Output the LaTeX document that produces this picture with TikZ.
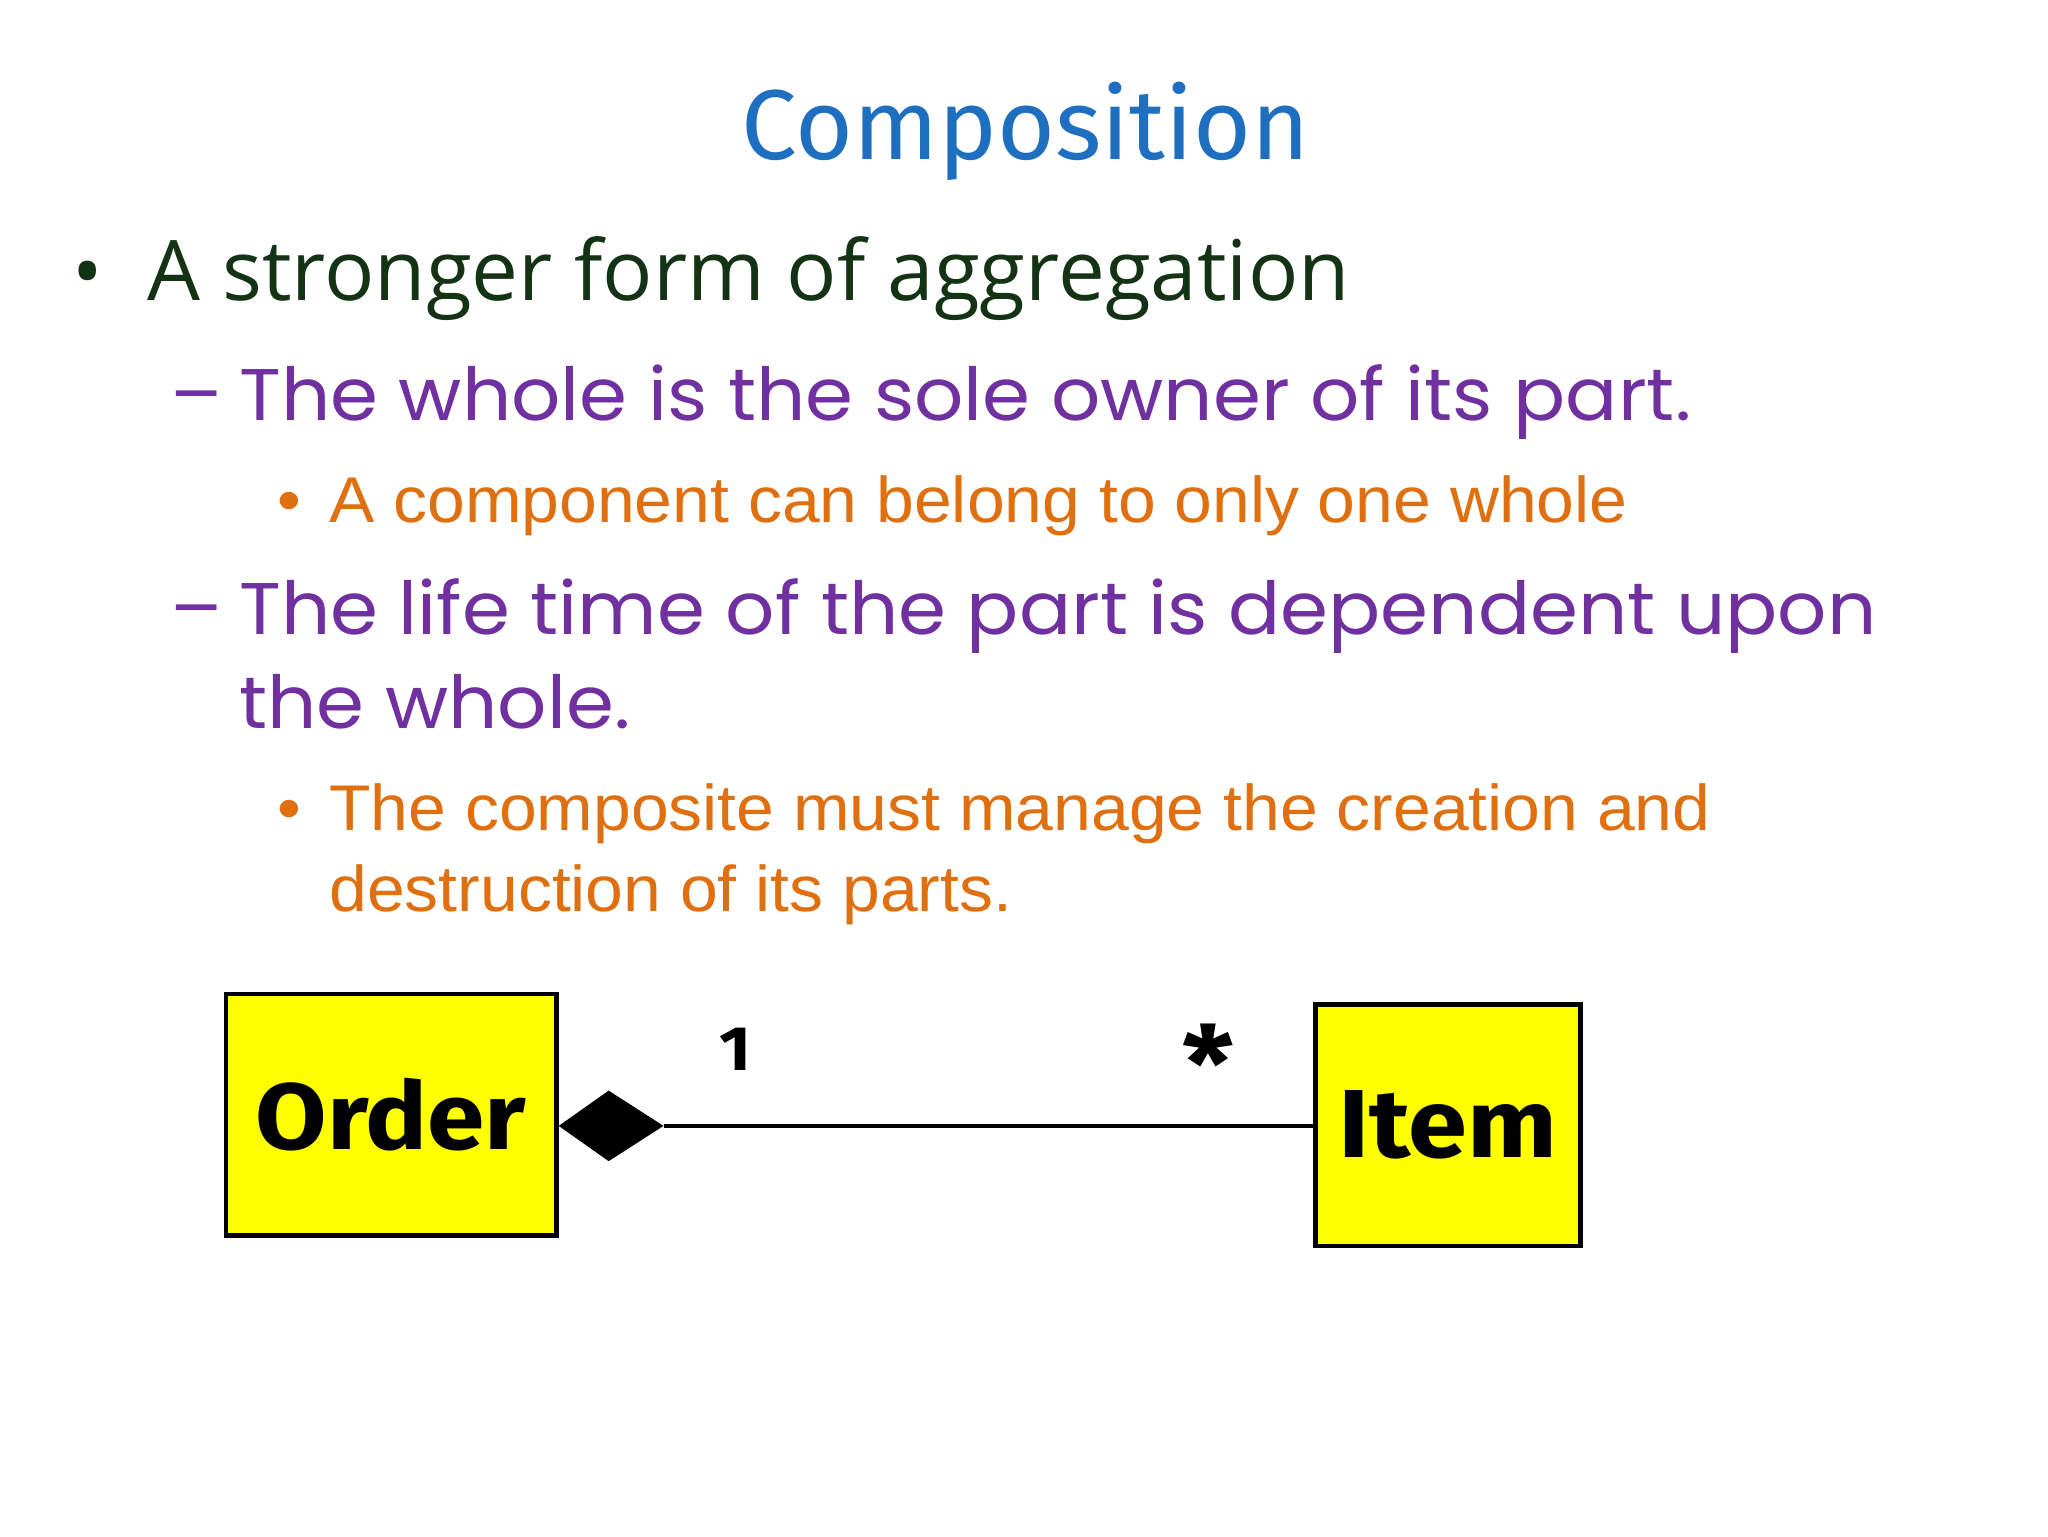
\documentclass[tikz,border=0pt]{standalone}
\usepackage{fontspec}
\setmainfont{Liberation Sans}[FakeStretch=1.05]
\newfontfamily\titlef{Fira Sans}
\newfontfamily\greenf{Open Sans}
\newfontfamily\purplef{Poppins}[FakeStretch=1.055]
\newfontfamily\boxf{Fira Sans}[FakeStretch=1.1]
\definecolor{tblue}{HTML}{1F6FC0}
\definecolor{tgreen}{HTML}{143214}
\definecolor{tpurple}{HTML}{7030A0}
\definecolor{torange}{HTML}{E0700F}
\definecolor{byellow}{HTML}{FFFF00}
\tikzset{txt/.style={anchor=base west,inner sep=0pt},
 cls/.style={draw=black,line width=3.5pt,fill=byellow,inner sep=0pt}}
\begin{document}
\begin{tikzpicture}[x=1pt,y=-1pt]
\useasboundingbox[fill=white] (0,0) rectangle (1568,1176);
\node[anchor=base,inner sep=0pt,text=tblue,font=\titlef\fontsize{76}{90}\selectfont] (title) at (785,122) {Composition};
\node[txt,text=tgreen,font=\greenf\fontsize{62}{70}\selectfont] (b1) at (55,230) {\textbullet};
\node[txt,text=tgreen,font=\greenf\fontsize{64}{70}\selectfont] (l1) at (113,230) {A stronger form of aggregation};
\node[txt,text=tpurple,font=\purplef\fontsize{56}{64}\selectfont] (d1) at (130,322) {–};
\node[txt,text=tpurple,font=\purplef\fontsize{56}{64}\selectfont] (l2) at (183,322) {The whole is the sole owner of its part.};
\node[txt,text=torange,font=\fontsize{49.5}{56}\selectfont] (b3) at (212,400) {•};
\node[txt,text=torange,font=\fontsize{49.5}{56}\selectfont] (l3) at (252,400) {A component can belong to only one whole};
\node[txt,text=tpurple,font=\purplef\fontsize{56}{64}\selectfont] (d2) at (130,486) {–};
\node[txt,text=tpurple,font=\purplef\fontsize{56}{64}\selectfont] (l4) at (183,486) {The life time of the part is dependent upon};
\node[txt,text=tpurple,font=\purplef\fontsize{56}{64}\selectfont] (l5) at (183,558) {the whole.};
\node[txt,text=torange,font=\fontsize{49.5}{56}\selectfont] (b6) at (212,636) {•};
\node[txt,text=torange,font=\fontsize{49.5}{56}\selectfont] (l6) at (252,636) {The composite must manage the creation and};
\node[txt,text=torange,font=\fontsize{49.5}{56}\selectfont] (l7) at (252,698) {destruction of its parts.};
\node[cls,minimum width=253,minimum height=185,font=\boxf\bfseries\fontsize{72}{80}\selectfont] (order) at (299.5,853.5) {Order};
\node[cls,minimum width=203,minimum height=185,font=\boxf\bfseries\fontsize{74}{80}\selectfont] (item) at (1108.5,861.5) {Item};
\coordinate (dtip) at (order.east |- 0,862);
\coordinate (dtop) at (466,835);
\coordinate (dend) at (508,862);
\coordinate (dbot) at (466,889);
\fill (dtip) -- (dtop) -- (dend) -- (dbot) -- cycle;
\draw[line width=3.5pt] (dend) -- (item.west |- dend);
\node[font=\boxf\bfseries\fontsize{48}{50}\selectfont] (m1) at (563,803) {1};
\node[font=\boxf\bfseries\fontsize{80}{80}\selectfont] (m2) at (925,814) {*};
\end{tikzpicture}
\end{document}
